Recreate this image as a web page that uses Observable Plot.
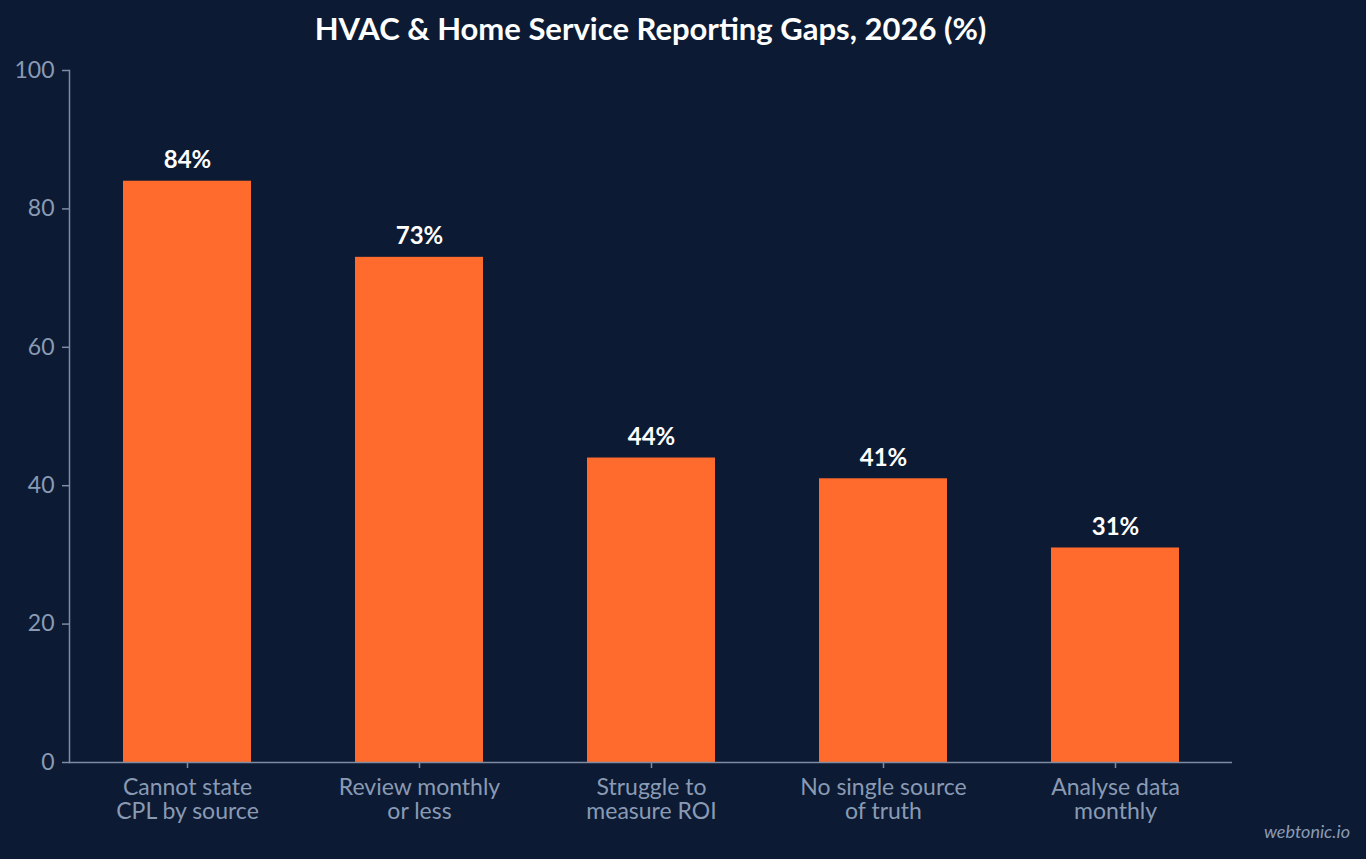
<!DOCTYPE html>
<html>
<head>
<meta charset="utf-8">
<script src="https://cdn.jsdelivr.net/npm/d3@7"></script>
<script src="https://cdn.jsdelivr.net/npm/@observablehq/plot@0.6"></script>
<style>
  html, body { margin: 0; padding: 0; background: #0c1b33; }
  #wrap { position: relative; width: 1366px; height: 859px; background: #0c1b33; font-family: Lato, sans-serif; overflow: hidden; }
  #title { position: absolute; left: 69px; width: 1163px; top: 9px; text-align: center; color: #ffffff; font-weight: bold; font-size: 31px; line-height: normal; }
  #chart { position: absolute; left: 0; top: 56px; }
  #credit { position: absolute; right: 16px; top: 820px; color: #8a9ab3; font-style: italic; font-size: 18px; }
</style>
</head>
<body>
<div id="wrap">
  <div id="title">HVAC &amp; Home Service Reporting Gaps, 2026 (%)</div>
  <div id="chart"></div>
  <div id="credit">webtonic.io</div>
</div>
<script>
const categories = [
  "Cannot state\nCPL by source",
  "Review monthly\nor less",
  "Struggle to\nmeasure ROI",
  "No single source\nof truth",
  "Analyse data\nmonthly"
];
const values = [84, 73, 44, 41, 31];
const yTicks = [0, 20, 40, 60, 80, 100];

const data = categories.map((c, i) => ({category: c, value: values[i]}));

const axisColor = "#7d8ba3";
const labelColor = "#8a9ab3";

const chart = Plot.plot({
  width: 1366,
  height: 803,
  marginTop: 14,
  marginBottom: 97,
  marginLeft: 69,
  marginRight: 134,
  style: { background: "#0c1b33", fontFamily: "Lato, sans-serif", color: labelColor, overflow: "visible" },
  x: { domain: categories, paddingInner: 0.45, paddingOuter: 0.225, label: null },
  y: { domain: [0, 100], label: null },
  marks: [
    Plot.barY(data, { x: "category", y: "value", fill: "#ff6b2c" }),
    Plot.text(data, { x: "category", y: "value", text: d => d.value + "%", dy: -13, lineAnchor: "bottom", fill: "#ffffff", fontWeight: "bold", fontSize: 24 }),
    Plot.frame({ anchor: "left", stroke: axisColor, strokeWidth: 1.5 }),
    Plot.ruleY([0], { stroke: axisColor, strokeWidth: 1.5 }),
    Plot.axisY(yTicks, { tickSize: 7, tickPadding: 8, stroke: axisColor, fill: labelColor, fontSize: 23, label: null, strokeWidth: 1.5 }),
    Plot.axisX({ tickSize: 6, tickPadding: 9, stroke: axisColor, fill: labelColor, fontSize: 23, lineHeight: 1.05, label: null, strokeWidth: 1.5 })
  ]
});
document.getElementById("chart").appendChild(chart);
</script>
</body>
</html>
